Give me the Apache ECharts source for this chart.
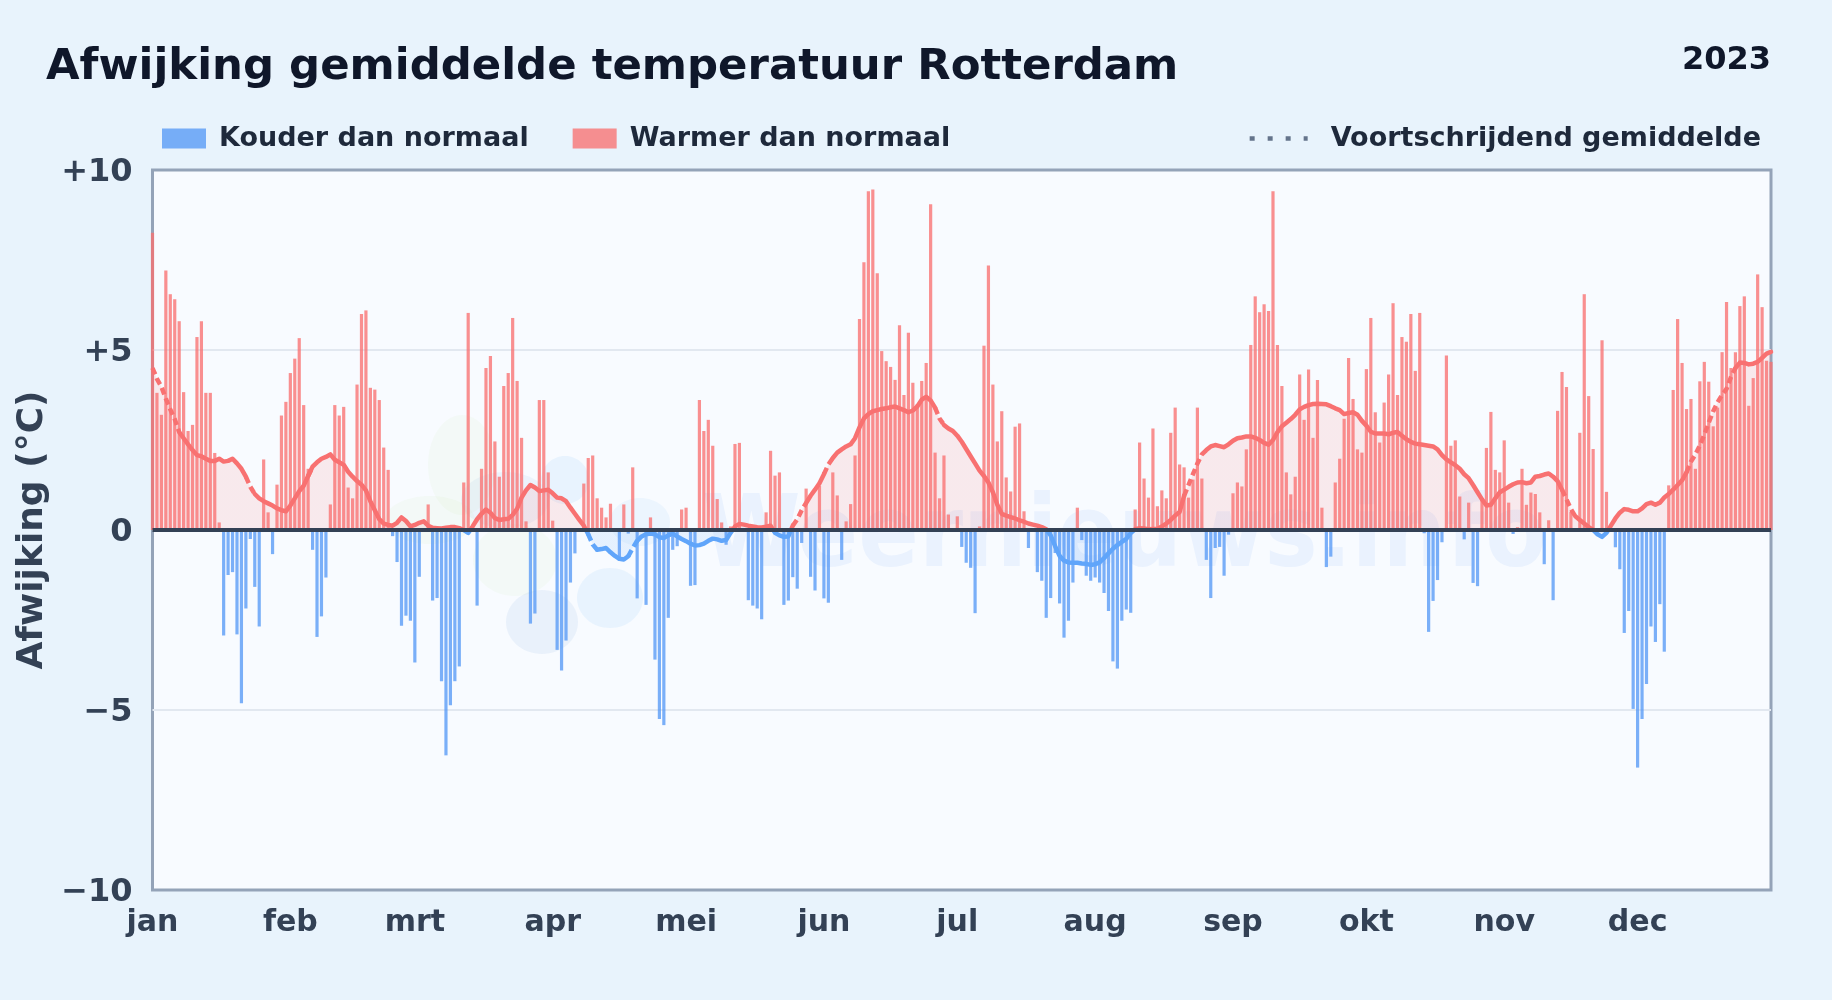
<!DOCTYPE html>
<html><head><meta charset="utf-8">
<style>html,body{margin:0;padding:0;background:#e8f3fc}#c{width:1832px;height:1000px}</style>
<script src="https://cdn.jsdelivr.net/npm/echarts@6/dist/echarts.min.js"></script>
</head><body><div id="c"></div>
<script>
const titleText = 'Afwijking gemiddelde temperatuur Rotterdam';
const yearText = '2023';
const seriesCold = 'Kouder dan normaal';
const seriesWarm = 'Warmer dan normaal';
const seriesAvg = 'Voortschrijdend gemiddelde';
const yAxisName = 'Afwijking (°C)';
const watermark = 'Weernieuws.info';
const monthLabels = ['jan','feb','mrt','apr','mei','jun','jul','aug','sep','okt','nov','dec'];
const monthStarts = [0,31,59,90,120,151,181,212,243,273,304,334];

const deviation = [
8.26,3.81,3.2,7.21,6.55,6.41,5.8,3.83,2.75,2.92,
5.36,5.8,3.81,3.81,2.14,.21,-2.93,-1.25,-1.17,-2.9,
-4.81,-2.18,-.25,-1.58,-2.68,1.96,.49,-.67,1.26,3.18,
3.56,4.36,4.76,5.33,3.47,1.7,-.55,-2.97,-2.4,-1.32,
.71,3.47,3.18,3.42,1.18,.88,4.04,6.0,6.1,3.95,
3.9,3.61,2.29,1.67,-.17,-.89,-2.66,-2.38,-2.52,-3.68,
-1.3,0,.71,-1.96,-1.89,-4.2,-6.26,-4.87,-4.2,-3.79,
1.32,6.03,0,-2.1,1.7,4.5,4.83,2.46,1.48,4.0,
4.36,5.89,4.14,2.56,.24,-2.6,-2.32,3.61,3.61,1.6,
.26,-3.33,-3.9,-3.07,-1.46,-.65,0,1.29,2.0,2.07,
.88,.62,.35,.73,0,-.85,.71,-.1,1.74,-1.9,
0,-2.08,.35,-3.6,-5.25,-5.42,-2.44,-.55,-.45,.57,
.62,-1.55,-1.53,3.61,2.75,3.06,2.34,.86,.21,-.41,
.1,2.39,2.42,0,-1.95,-2.1,-2.18,-2.48,.49,2.2,
1.51,1.6,-2.08,-1.96,-1.31,-1.63,-.36,1.15,-1.3,-1.68,
1.23,-1.9,-2.02,1.6,.96,-.83,.24,.72,2.07,5.86,
7.44,9.41,9.46,7.13,4.97,4.69,4.53,4.17,5.69,3.75,
5.48,4.09,3.5,4.14,4.64,9.05,2.15,.88,2.07,.43,
0,.38,-.47,-.91,-1.05,-2.31,.1,5.12,7.35,4.04,
2.46,3.3,1.46,1.07,2.87,2.96,.52,-.5,0,-1.17,
-1.41,-2.44,-1.89,-.64,-2.04,-2.99,-2.52,-1.46,.62,-.28,
-1.27,-1.41,-1.32,-1.46,-1.75,-2.25,-3.65,-3.85,-2.52,-2.21,
-2.3,.57,2.43,1.43,.9,2.82,.66,1.1,.88,2.7,
3.4,1.82,1.74,.9,1.4,3.4,1.43,-.83,-1.89,-.5,
-.47,-1.27,-.13,1.02,1.32,1.21,2.24,5.14,6.49,6.05,
6.27,6.08,9.41,5.14,4.0,1.6,.99,1.48,4.32,3.06,
4.46,2.56,4.17,.62,-1.03,-.74,1.32,1.98,3.09,4.78,
3.64,2.24,2.15,4.47,5.89,3.27,2.43,3.54,4.32,6.3,
3.75,5.36,5.23,6.0,4.42,6.03,-.09,-2.83,-1.97,-1.39,
-.34,4.85,2.34,2.49,.93,-.26,.76,-1.47,-1.56,.85,
2.28,3.28,1.67,1.6,2.49,.76,-.11,.08,1.7,.7,
1.04,1.0,.49,-.95,.27,-1.95,3.31,4.39,3.97,.5,
0,2.7,6.55,3.72,2.25,0,5.27,1.06,0,-.48,
-1.09,-2.86,-2.25,-4.97,-6.6,-5.25,-4.28,-2.68,-3.11,-2.06,
-3.38,1.24,3.89,5.86,4.64,3.36,3.64,1.7,4.13,4.67,
4.12,2.88,3.4,4.94,6.33,4.5,4.94,6.22,6.49,3.45,
4.22,7.1,6.19,4.7,4.67
];

const rollingAvg = [
4.50,4.20,3.98,3.65,3.35,3.08,2.72,2.55,2.38,2.22,
2.08,2.05,1.98,1.92,1.92,1.98,1.90,1.92,1.98,1.85,
1.70,1.48,1.20,1.00,.88,.80,.74,.68,.60,.55,
.52,.68,.88,1.08,1.23,1.50,1.76,1.88,1.98,2.03,
2.10,1.95,1.88,1.81,1.62,1.48,1.36,1.26,1.10,.80,
.55,.30,.18,.14,.12,.20,.35,.25,.10,.14,
.20,.24,.12,.06,.05,.04,.06,.08,.08,.05,
.00,-.08,.10,.30,.45,.57,.48,.33,.28,.30,
.31,.42,.59,.90,1.10,1.25,1.18,1.08,1.10,1.12,
1.02,.90,.88,.80,.62,.45,.28,.12,-.12,-.40,
-.55,-.53,-.50,-.62,-.72,-.80,-.82,-.73,-.50,-.30,
-.18,-.12,-.10,-.12,-.20,-.22,-.15,-.10,-.18,-.25,
-.31,-.38,-.43,-.42,-.38,-.30,-.24,-.26,-.30,-.28,
-.08,.10,.17,.15,.12,.10,.08,.07,.09,.12,
-.08,-.15,-.19,-.18,.12,.30,.55,.75,.95,1.12,
1.30,1.55,1.82,2.00,2.15,2.24,2.32,2.38,2.55,2.85,
3.10,3.22,3.30,3.33,3.36,3.38,3.41,3.43,3.38,3.33,
3.27,3.32,3.43,3.62,3.70,3.60,3.40,3.10,2.92,2.82,
2.75,2.62,2.45,2.25,2.05,1.85,1.65,1.50,1.32,1.05,
.70,.45,.40,.36,.32,.27,.23,.18,.15,.12,
.08,.02,-.15,-.45,-.72,-.85,-.90,-.91,-.91,-.93,
-.94,-.97,-.95,-.90,-.78,-.65,-.52,-.42,-.33,-.25,
-.08,.02,.05,.04,.02,.03,.03,.10,.18,.28,
.40,.50,.95,1.25,1.55,1.85,2.10,2.22,2.32,2.36,
2.33,2.30,2.38,2.48,2.55,2.57,2.60,2.60,2.56,2.50,
2.42,2.37,2.50,2.72,2.88,2.98,3.08,3.20,3.35,3.42,
3.47,3.50,3.51,3.50,3.49,3.44,3.38,3.33,3.22,3.25,
3.27,3.20,3.03,2.90,2.73,2.68,2.68,2.68,2.66,2.70,
2.72,2.62,2.52,2.45,2.40,2.38,2.36,2.34,2.32,2.24,
2.08,1.96,1.88,1.80,1.70,1.55,1.44,1.25,1.05,.85,
.68,.70,.88,1.05,1.12,1.20,1.27,1.32,1.33,1.30,
1.32,1.48,1.50,1.54,1.57,1.48,1.36,1.12,.85,.58,
.38,.28,.18,.08,0,-.12,-.19,-.08,.12,.32,
.48,.58,.56,.52,.52,.60,.72,.76,.70,.76,
.90,1.00,1.12,1.25,1.38,1.60,1.90,2.10,2.35,2.65,
2.98,3.30,3.55,3.75,3.92,4.25,4.50,4.65,4.64,4.60,
4.62,4.67,4.78,4.90,4.95
];

// day ranges [from,to] where the reference draws the average with a broken stroke
const dashedRanges = [[0,6],[21,23],[35,36],[98,100],[107,109],[144,147],[151,153],[176,178],[232,237],[317,320],[345,356]];

const FONT = '"DejaVu Sans", sans-serif';
const inDash = i => dashedRanges.some(r => i >= r[0] && i <= r[1]);
const isEdge = i => dashedRanges.some(r => i === r[0] || i === r[1]);
const categories = deviation.map((_, i) => { const m = monthStarts.indexOf(i); return m >= 0 ? monthLabels[m] : String(i); });
const coldData = deviation.map(v => v < 0 ? v : null);
const warmData = deviation.map(v => v > 0 ? v : null);
const solidData = rollingAvg.map((v, i) => (!inDash(i) || isEdge(i)) ? v : null);
const dashData = rollingAvg.map((v, i) => inDash(i) ? v : null);
const zeroData = deviation.map(() => 0);
const noData = deviation.map(() => null);

const GRID = {left:152.5, top:170, width:1618.5, height:720};
// red above the zero line, blue below it (zero sits halfway up the symmetric axis)
const signColor = (warm, cold) => ({type:'linear',global:true,x:0,y:GRID.top,x2:0,y2:GRID.top+GRID.height,
  colorStops:[{offset:0,color:warm},{offset:.5,color:warm},{offset:.5,color:cold},{offset:1,color:cold}]});

const blobs = [
  {cx:462,cy:465,rx:34,ry:50,fill:'rgba(190,225,150,.08)'},
  {cx:430,cy:520,rx:45,ry:24,fill:'rgba(190,225,150,.08)'},
  {cx:515,cy:560,rx:42,ry:36,fill:'rgba(190,225,150,.08)'},
  {cx:505,cy:500,rx:44,ry:28,fill:'rgba(90,140,215,.07)'},
  {cx:542,cy:622,rx:36,ry:32,fill:'rgba(90,140,215,.09)'},
  {cx:610,cy:598,rx:33,ry:30,fill:'rgba(120,190,245,.12)'},
  {cx:565,cy:480,rx:24,ry:24,fill:'rgba(120,190,245,.12)'},
  {cx:640,cy:522,rx:30,ry:24,fill:'rgba(120,190,245,.09)'}
];

const chart = echarts.init(document.getElementById('c'), null, {renderer:'canvas', width:1832, height:1000});
chart.setOption({
  animation:false,
  backgroundColor:'#e8f3fc',
  textStyle:{fontFamily:FONT},
  title:[
    {text:titleText,left:46,top:46,padding:0,textStyle:{fontFamily:FONT,fontSize:43.4,fontWeight:'bold',color:'#0f172a'}},
    {text:yearText,right:61,top:45,padding:0,textStyle:{fontFamily:FONT,fontSize:32,fontWeight:'bold',color:'#0f172a'}}
  ],
  legend:[
    {data:[seriesCold,seriesWarm],left:162,top:125,padding:0,itemWidth:44,itemHeight:20,itemGap:44,icon:'rect',
     textStyle:{fontFamily:FONT,fontSize:27,fontWeight:'bold',color:'#1e293b',padding:[0,0,0,8]}},
    {data:[seriesAvg],right:71,top:125,padding:0,itemWidth:58,itemHeight:20,
     itemStyle:{opacity:0},lineStyle:{color:'#64748b',width:4.5,type:[5,13],opacity:1,cap:'butt'},
     textStyle:{fontFamily:FONT,fontSize:27,fontWeight:'bold',color:'#1e293b',padding:[0,0,0,18]}}
  ],
  grid:{...GRID,show:true,backgroundColor:'#f8fbff',borderColor:'#94a3b8',borderWidth:3,containLabel:false},
  xAxis:{type:'category',data:categories,boundaryGap:false,position:'bottom',
    axisLine:{show:false,onZero:false},axisTick:{show:false},splitLine:{show:false},
    axisLabel:{interval:(i)=>monthStarts.includes(i),color:'#334155',fontFamily:FONT,fontSize:30,fontWeight:'bold',margin:18,hideOverlap:false}},
  yAxis:{type:'value',min:-10,max:10,interval:5,
    name:yAxisName,nameLocation:'middle',nameRotate:90,nameGap:68,
    nameTextStyle:{fontFamily:FONT,fontSize:36,fontWeight:'bold',color:'#334155'},
    axisLine:{show:false},axisTick:{show:false},
    splitLine:{show:true,showMinLine:false,showMaxLine:false,lineStyle:{color:'#e2e8f0',width:2}},
    axisLabel:{color:'#334155',fontFamily:FONT,fontSize:32,fontWeight:'bold',margin:20,verticalAlign:'top',lineHeight:6,
      formatter:v=>v>0?'+'+v:(v<0?'\u2212'+Math.abs(v):'0')}},
  graphic:{elements:[
    ...blobs.map(b=>({type:'ellipse',silent:true,z:1,shape:{cx:b.cx,cy:b.cy,rx:b.rx,ry:b.ry},style:{fill:b.fill}})),
    {type:'text',silent:true,z:1,x:702,y:590,scaleX:.895,style:{text:watermark,font:'bold 100px "DejaVu Sans"',verticalAlign:'bottom',fill:'rgba(59,130,246,.07)'}}
  ]},
  series:[
    {name:seriesCold,type:'bar',data:coldData,barWidth:3.2,barGap:'-100%',z:3,itemStyle:{color:'rgba(80,150,245,.75)'}},
    {name:seriesWarm,type:'bar',data:warmData,barWidth:3.2,barGap:'-100%',z:3,itemStyle:{color:'rgba(248,113,113,.78)'}},
    {name:'area',type:'line',data:rollingAvg,showSymbol:false,symbol:'none',z:2,lineStyle:{width:0},
     areaStyle:{color:signColor('rgba(248,113,113,.13)','rgba(96,165,250,.12)'),opacity:1},silent:true},
    {name:'avgSolid',type:'line',data:solidData,showSymbol:false,symbol:'none',z:4,connectNulls:false,
     lineStyle:{width:4.5,cap:'round',join:'round',color:signColor('#f87171','#60a5fa')},silent:true},
    {name:'avgDash',type:'line',data:dashData,showSymbol:false,symbol:'none',z:4,connectNulls:false,
     lineStyle:{width:4.5,type:[7,4],cap:'butt',color:signColor('#f87171','#60a5fa')},silent:true},
    {name:seriesAvg,type:'line',data:noData,showSymbol:false,symbol:'none',z:1,itemStyle:{color:'#64748b'},lineStyle:{color:'#64748b',width:4,type:[5,13]}},
    {name:'zero',type:'line',data:zeroData,z:6,silent:true,showSymbol:false,symbol:'none',lineStyle:{color:'#334155',width:4,type:'solid'}}
  ]
});
</script></body></html>
